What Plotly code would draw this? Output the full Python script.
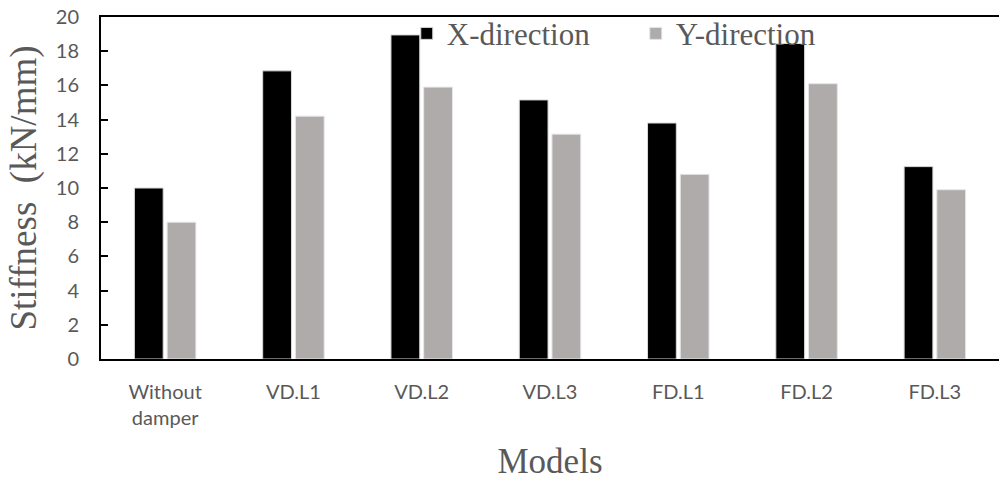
import plotly.graph_objects as go

models = ["Without<br>damper", "VD.L1", "VD.L2", "VD.L3", "FD.L1", "FD.L2", "FD.L3"]
x_direction = [10.0, 16.85, 18.95, 15.15, 13.8, 18.45, 11.25]
y_direction = [8.0, 14.2, 15.9, 13.15, 10.8, 16.1, 9.9]
y_ticks = [0, 2, 4, 6, 8, 10, 12, 14, 16, 18, 20]

GRAY_TXT = "#595959"
SERIF = "Liberation Serif, Times New Roman, serif"
SANS = "Lato, Open Sans, sans-serif"

fig = go.Figure()
fig.add_trace(go.Bar(name="X-direction", x=models, y=x_direction,
                     marker=dict(color="#000000", line=dict(color="#d9d9d9", width=1))))
fig.add_trace(go.Bar(name="Y-direction", x=models, y=y_direction,
                     marker=dict(color="#afabab", line=dict(color="#e6e6e6", width=1))))

fig.update_layout(
    width=999, height=481,
    margin=dict(l=101, r=0, t=17, b=122, autoexpand=False),
    paper_bgcolor="white", plot_bgcolor="white",
    barmode="group", bargap=0.49, bargroupgap=0.12,
    legend=dict(orientation="h", x=0.3405, y=1.03, xanchor="left", yanchor="top",
                bgcolor="rgba(0,0,0,0)",
                font=dict(family=SERIF, size=31, color=GRAY_TXT),
                itemwidth=30, tracegroupgap=0, entrywidth=184),
    xaxis=dict(showline=True, linecolor="black", linewidth=2, mirror=True,
               ticks="", showgrid=False, automargin=False,
               tickfont=dict(family=SANS, size=20, color=GRAY_TXT),
               ticklabelstandoff=14,
               title=dict(text="Models", font=dict(family=SERIF, size=35, color=GRAY_TXT),
                          standoff=20)),
    yaxis=dict(range=[0, 20], tickvals=y_ticks, showline=True, linecolor="black", linewidth=2,
               ticks="inside", ticklen=7, tickwidth=1.5, tickcolor="black",
               showgrid=False, zeroline=False, automargin=False,
               ticklabeloverflow="allow",
               tickfont=dict(family=SANS, size=20, color=GRAY_TXT),
               ticklabelstandoff=16,
               title=dict(text="Stiffness  (kN/mm)", font=dict(family=SERIF, size=37, color=GRAY_TXT),
                          standoff=8)),
)

# remove the page's default 8px body margin so the figure fills the 999x481 window
fig.write_html("out.html", config={"displayModeBar": False},
               post_script="document.body.style.margin='0';")
